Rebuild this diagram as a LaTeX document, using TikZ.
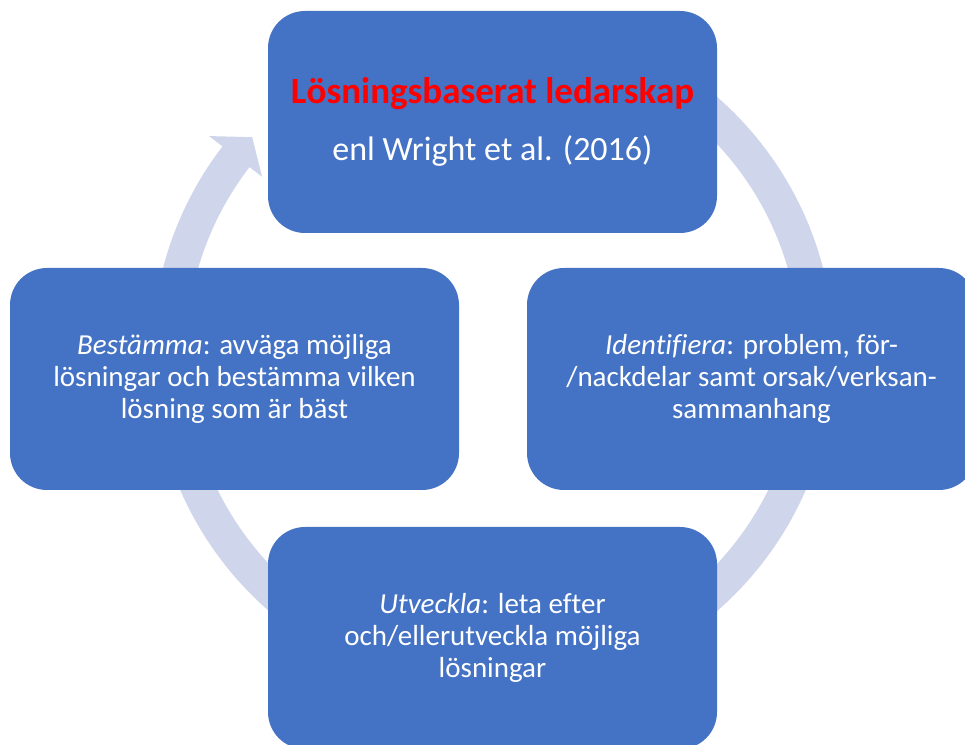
\documentclass[tikz,border=0pt]{standalone}
\usepackage{fontspec}
\setmainfont{Carlito}[Ligatures=CommonOff]
\usetikzlibrary{calc}
\definecolor{boxblue}{RGB}{68,114,196}
\definecolor{bandcol}{RGB}{207,213,234}
\begin{document}
\begin{tikzpicture}[x=1pt,y=1pt,
  cyclebox/.style={fill=boxblue, draw=none, rounded corners=37pt,
    minimum width=449pt, minimum height=222pt, text=white, align=center,
    font=\fontsize{29}{32}\selectfont, inner sep=0pt}]
\useasboundingbox (0,0) rectangle (965,744);
\clip (0,0) rectangle (965,744);
\coordinate (c) at (493,390);
% circular arrow band
\fill[bandcol] ($(c)+(90:341)$) arc[start angle=90, end angle=-217.5, radius=341]
  -- ($(c)+(142.5:358)$) -- ($(c)+(138:324)$) -- ($(c)+(142.5:291)$)
  -- ($(c)+(142.5:307)$) arc[start angle=-217.5, end angle=90, radius=307] -- cycle;
% boxes
\node[cyclebox, font=\fontsize{34}{57}\selectfont] (top) at (492.5,622)
  {{\fontsize{37}{57}\selectfont\bfseries\color{red}Lösningsbaserat ledarskap}\\enl Wright et al. (2016)};
\node[cyclebox] (left) at (234.5,365)
  {\textit{Bestämma}: avväga möjliga\\lösningar och bestämma vilken\\lösning som är bäst};
\node[cyclebox] (right) at (751.5,365)
  {\textit{Identifiera}: problem, för-\\/nackdelar samt orsak/verksan-\\sammanhang};
\node[cyclebox] (bottom) at (492.5,106)
  {\textit{Utveckla}: leta efter\\och/ellerutveckla möjliga\\lösningar};
\end{tikzpicture}
\end{document}
